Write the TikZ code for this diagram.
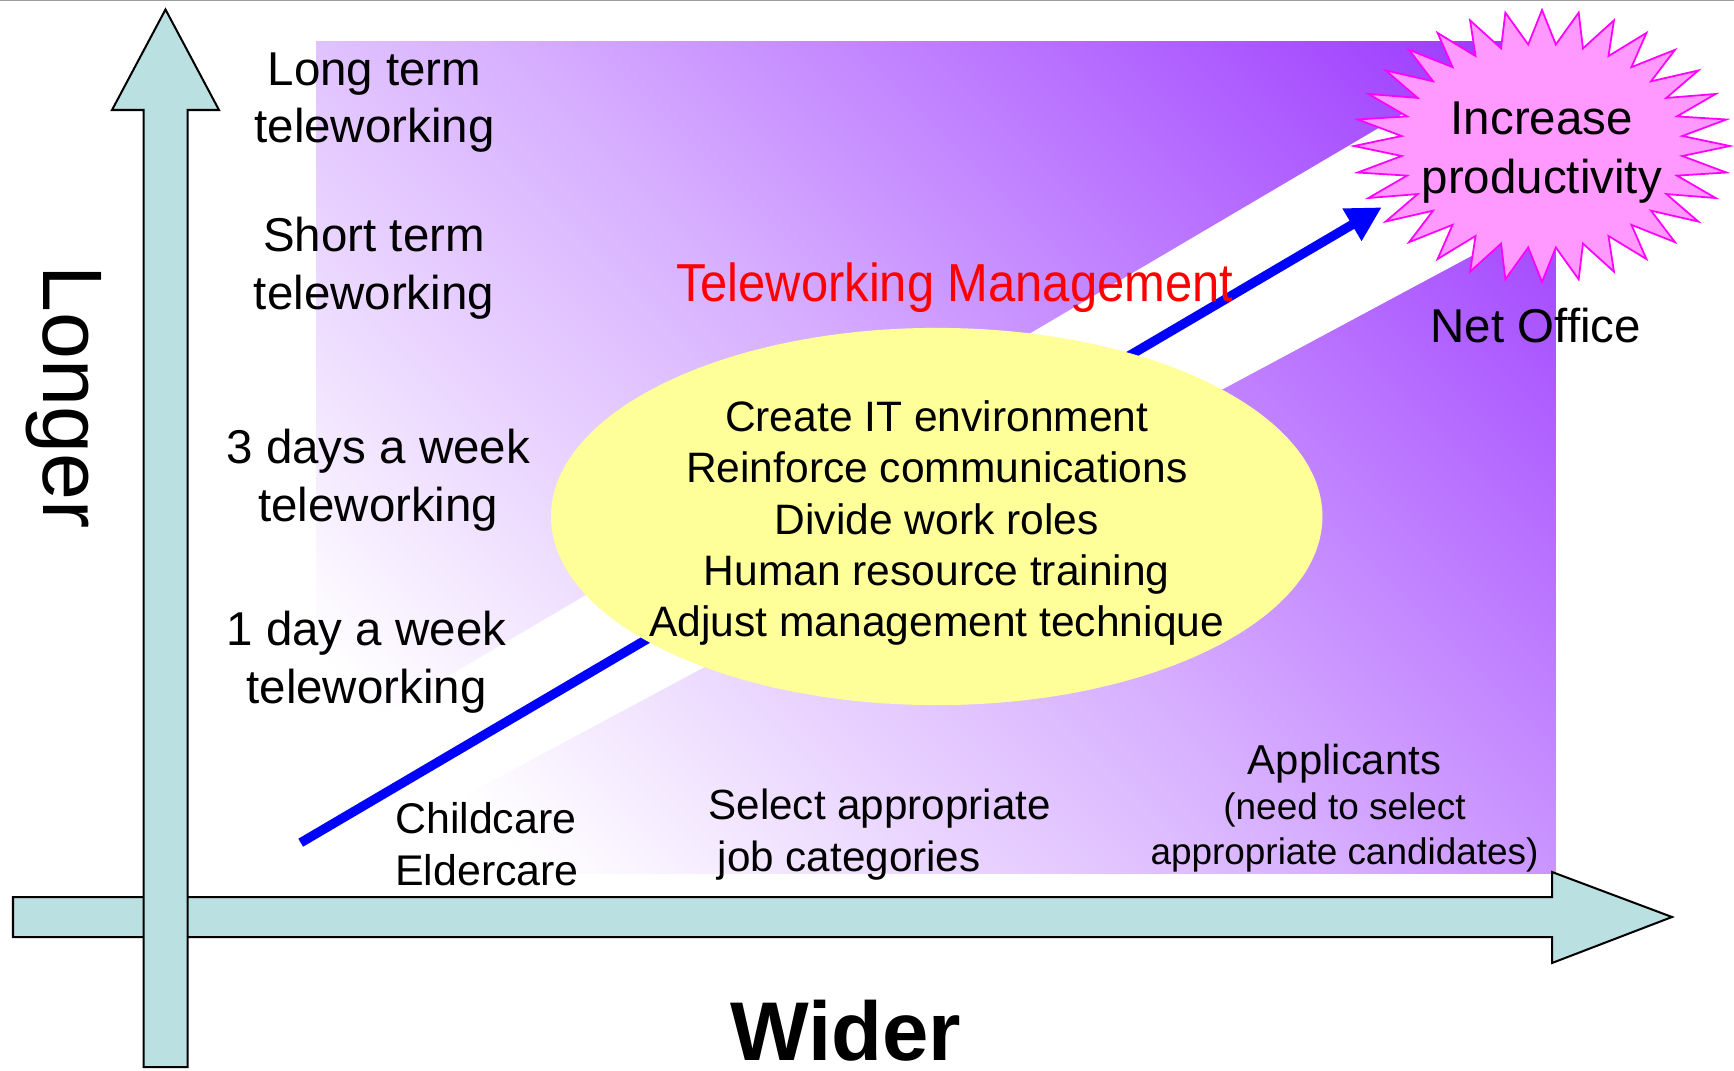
\documentclass[tikz,border=0pt]{standalone}
\usepackage{fontspec}
\setmainfont{Liberation Sans}
\usepackage{xcolor}
\usepackage{tikz}
\usetikzlibrary{arrows.meta,shapes.geometric}
\definecolor{axisfill}{RGB}{186,224,226}
\definecolor{netviolet}{RGB}{153,51,255}
\definecolor{taskyellow}{RGB}{255,255,153}
\definecolor{burstpink}{RGB}{255,153,255}
\definecolor{burstline}{RGB}{255,0,255}
\definecolor{pathblue}{RGB}{0,0,255}
\pgfdeclarehorizontalshading{netfade}{100bp}{color(0bp)=(white); color(22bp)=(white);
  color(50bp)=(netviolet!40!white); color(85.4bp)=(netviolet); color(100bp)=(netviolet)}
\tikzset{
	axisarrow/.style={draw=black, line width=0.57pt, fill=axisfill},
	rowlabel/.style={align=center, font=\fontsize{13.5}{16.4}\selectfont},
	smalllabel/.style={align=left, anchor=west, font=\fontsize{12}{14.7}\selectfont},
	burst/.style={fill=burstpink, draw=burstline, line width=0.5pt, line join=miter}
}

\begin{document}
\begin{tikzpicture}[x=0.01cm, y=-0.01cm, every node/.style={inner sep=0pt}]
  \useasboundingbox (0,0) rectangle (1734,1070);
  \draw[black!38, line width=0.4pt] (0,0.7) -- (1734,0.7);

  % Background
  \shade[shading=netfade, shading angle=45] (316,42) rectangle (1555.5,873.5);
  \begin{scope}
    \clip (316,42) rectangle (1555.5,873.5);
    \fill[white] (250,792.9) -- (1650,-31.7) -- (1650,160.2) -- (250,910.6) -- cycle;
  \end{scope}

  % Arrow
  \coordinate (tail) at (300.7,842.7);
  \coordinate (goal) at (1381.7,207.3);
  \draw[pathblue, line width=2.65pt, -{Triangle[length=3.45mm,width=3.52mm]}] (tail) -- (goal);

  % Nodes
  \node[ellipse, fill=taskyellow, minimum width=7.71cm, minimum height=3.77cm] (hub) at (936.7,516.5) {};
  \node[align=center, font=\fontsize{12.1}{14.6}\selectfont] (measures) at (936.7,523.1)
    {Create IT environment\\Reinforce communications\\Divide work roles\\Human resource training\\Adjust management technique};

  \node[rowlabel] (longterm)  at (374.5,102.5) {Long term\\teleworking};
  \node[rowlabel] (shortterm) at (374,268)     {Short term\\teleworking};
  \node[rowlabel] (threedays) at (378.3,480.3) {3 days a week\\teleworking};
  \node[rowlabel] (oneday)    at (366.5,662)   {1 day a week\\teleworking};

  \node[smalllabel, font=\fontsize{12.2}{14.7}\selectfont] (care) at (394.5,844.5) {Childcare\\Eldercare};
  \node[smalllabel, font=\fontsize{12}{14.8}\selectfont] (jobs) at (707.8,834.3) {Select appropriate\\\hspace*{0.22em}job categories};
  \node[align=center, font=\fontsize{10.5}{12.8}\selectfont] (applicants) at (1344.5,807.8)
    {{\fontsize{11.9}{12.8}\selectfont Applicants}\\(need to select\\appropriate candidates)};

  \node[anchor=base, text=red, font=\fontsize{15.2}{18}\selectfont] (mgmt) at (954.7,301.7)
    {\scalebox{0.915}[1]{Teleworking Management}};

  % Burst
  \begin{scope}[shift={(1542,146)}]
    \filldraw[burst] (0:188 and 136)
      \foreach \k [evaluate=\k as \f using {1-0.25*mod(\k,2)}] in {1,...,63} {
        -- ({\k*5.625}:{188*\f} and {136*\f}) } -- cycle;
  \end{scope}
  \node[rowlabel, font=\fontsize{13.5}{16.9}\selectfont] (boost) at (1541.7,152.5) {Increase\\productivity};
  \node[anchor=base, font=\fontsize{13.5}{16}\selectfont] (netoffice) at (1535.8,342) {Net Office};

  % Axes
  \draw[axisarrow] (13,897) -- (1552,897) -- (1552,872) -- (1672,917)
    -- (1552,963) -- (1552,937) -- (13,937) -- cycle;
  \draw[axisarrow] (143.5,1067) -- (143.5,110) -- (112,110) -- (165.5,9.5)
    -- (219,110) -- (187.5,110) -- (187.5,1067) -- cycle;

  \node[rotate=-90, font=\fontsize{24}{28}\selectfont] (longer) at (64,397) {Longer};
  \node[anchor=base, font=\bfseries\fontsize{23.7}{28}\selectfont] (wider) at (845.8,1060) {Wider};
\end{tikzpicture}
\end{document}
